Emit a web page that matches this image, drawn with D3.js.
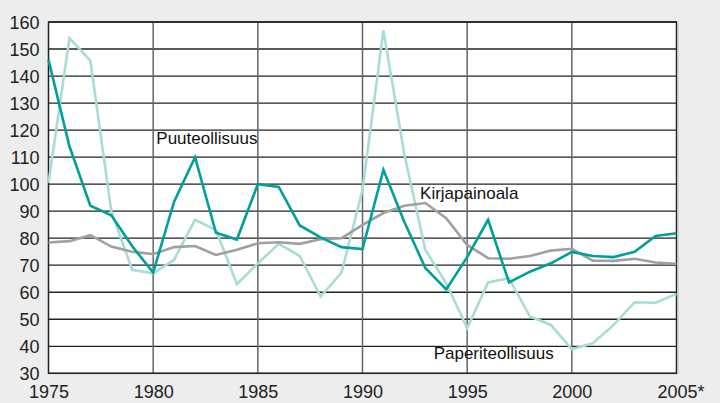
<!DOCTYPE html>
<html><head><meta charset="utf-8">
<script src="https://cdn.jsdelivr.net/npm/d3@7"></script>
<style>
html,body{margin:0;padding:0;background:#ededed;}
svg{display:block;}
</style></head>
<body>
<svg id="c" width="720" height="403"></svg>
<script>
const years = d3.range(1975, 2006);
const puuteollisuus = [146,114,92,88.5,77,67.3,93.5,110,82,79.5,100,99,84.7,80.3,76.7,76,105.3,86,69,61,73,86.8,63.6,67.6,70.7,74.9,73.4,73,75,80.8,81.8];
const kirjapainoala = [78.4,78.9,81.1,76.9,75,74.1,76.7,77.1,73.8,75.7,78.1,78.5,77.9,79.6,80,84.9,89.3,92,93,87.4,77.5,72.6,72.4,73.4,75.4,76.1,71.7,71.6,72.4,71,70.5];
const paperiteollisuus = [100.4,154,145.7,89.9,68.3,67,72,86.8,83,63,70.7,77.9,73.4,58.4,67.3,97.9,156.9,111,75.7,63.3,46.7,63.6,65.2,51,47.9,38.9,41.1,47.9,56.3,56.1,59.4];
const yTicks = [30,40,50,60,70,80,90,100,110,120,130,140,150,160];
const xTicks = [1975,1980,1985,1990,1995,2000,2005];
const xTickLabels = ["1975","1980","1985","1990","1995","2000","2005*"];
const seriesNames = ["Puuteollisuus","Kirjapainoala","Paperiteollisuus"];

const svg = d3.select("#c");
const L = 48.5, R = 676.5, T = 22, B = 373.3;
const x = d3.scaleLinear().domain([1975,2005]).range([L,R]);
const y = d3.scaleLinear().domain([30,160]).range([B,T]);
const font = "'Liberation Sans', Arial, sans-serif";

svg.append("rect").attr("x",L).attr("y",T).attr("width",R-L).attr("height",B-T).attr("fill","#fff");

// horizontal grid
svg.append("g").selectAll("line").data(yTicks).join("line")
  .attr("x1",L).attr("x2",R).attr("y1",d=>y(d)).attr("y2",d=>y(d))
  .attr("stroke","#222").attr("stroke-width",1.3);
// vertical grid
svg.append("g").selectAll("line").data(xTicks.slice(1,-1)).join("line")
  .attr("x1",d=>x(d)).attr("x2",d=>x(d)).attr("y1",T).attr("y2",B)
  .attr("stroke","#666").attr("stroke-width",1.5);

// axes labels
const yAxis = d3.axisLeft(y).tickValues(yTicks).tickSize(0).tickPadding(9);
const gy = svg.append("g").attr("transform",`translate(${L},0)`).call(yAxis);
gy.select(".domain").remove();
gy.selectAll("text").attr("font-family",font).attr("font-size",18).attr("fill","#222").attr("dy","0.36em");

const xAxis = d3.axisBottom(x).tickValues(xTicks).tickSize(0).tickPadding(0).tickFormat((d,i)=>xTickLabels[i]);
const gx = svg.append("g").attr("transform",`translate(0,${B})`).call(xAxis);
gx.select(".domain").remove();
gx.selectAll("text").attr("font-family",font).attr("font-size",18).attr("fill","#222")
  .attr("dy",null).attr("y",25.2);
gx.selectAll(".tick").filter((d,i)=>i===xTicks.length-1).select("text")
  .attr("text-anchor","start").attr("x",-19.5);

// border
svg.append("rect").attr("x",L).attr("y",T).attr("width",R-L).attr("height",B-T)
  .attr("fill","none").attr("stroke","#222").attr("stroke-width",1.5);
svg.append("line").attr("x1",R+1.5).attr("x2",R+1.5).attr("y1",T+1).attr("y2",B+1).attr("stroke","#c8c8c8").attr("stroke-width",1.5);

const line = d3.line().x((d,i)=>x(years[i])).y(d=>y(d));
svg.append("path").datum(paperiteollisuus).attr("d",line).attr("fill","none").attr("stroke","#a8dcd7").attr("stroke-width",2.6);
svg.append("path").datum(kirjapainoala).attr("d",line).attr("fill","none").attr("stroke","#a0a0a0").attr("stroke-width",2.6);
svg.append("path").datum(puuteollisuus).attr("d",line).attr("fill","none").attr("stroke","#00a09a").attr("stroke-width",2.6);

svg.append("text").text(seriesNames[0]).attr("x",x(1980.15)).attr("y",y(114.8)).attr("font-family",font).attr("font-size",17).attr("fill","#111");
svg.append("text").text(seriesNames[1]).attr("x",x(1992.75)).attr("y",y(94.4)).attr("font-family",font).attr("font-size",17).attr("fill","#111");
svg.append("text").text(seriesNames[2]).attr("x",x(1993.4)).attr("y",y(35.2)).attr("font-family",font).attr("font-size",17).attr("fill","#111");
</script>
</body></html>
